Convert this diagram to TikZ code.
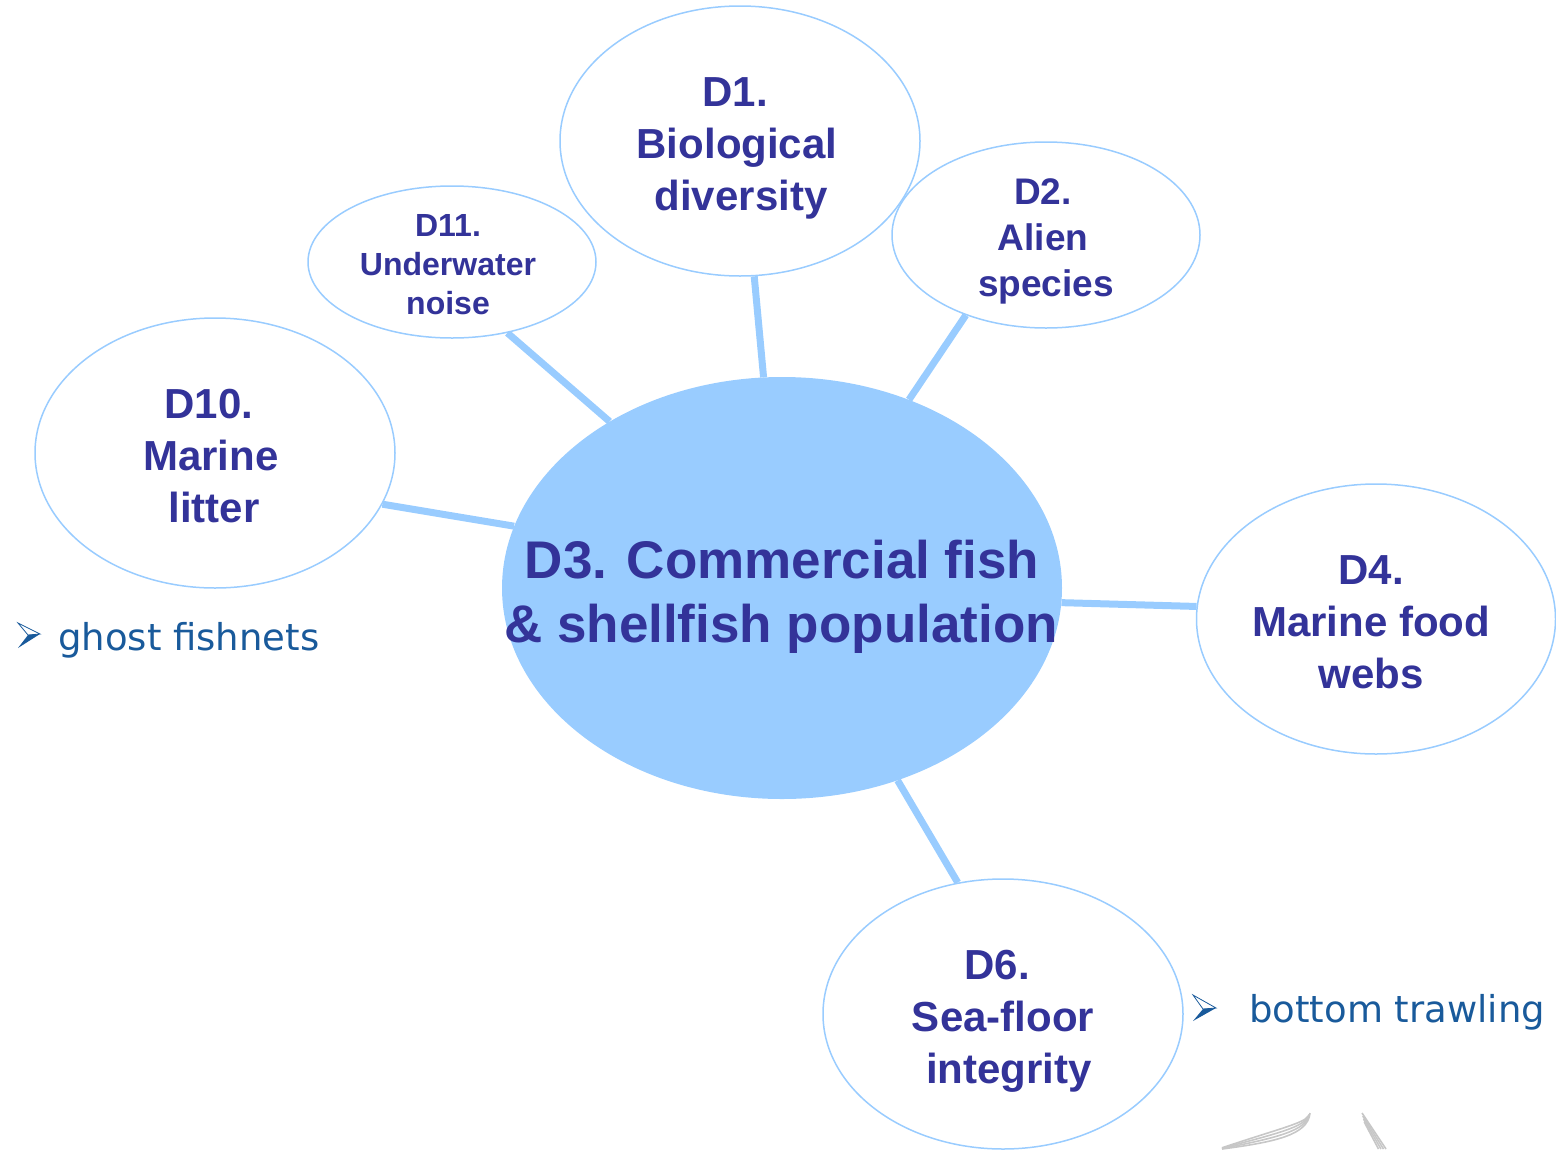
\documentclass[tikz,border=0pt]{standalone}
\usepackage{fontspec}
\setmainfont{Liberation Sans}
\newfontfamily\bulletfont{DejaVu Sans}
\usetikzlibrary{shapes.geometric,backgrounds}
\definecolor{bubblefill}{HTML}{99CCFF}
\definecolor{labeltext}{HTML}{333399}
\definecolor{notetext}{RGB}{25,90,155}
\tikzset{
  bubble/.style={ellipse, draw=bubblefill, line width=1.5pt, fill=white, inner sep=0pt},
  hub/.style={ellipse, fill=bubblefill, inner sep=0pt},
  link/.style={draw=bubblefill, line width=7pt},
  lbl/.style={text=labeltext, align=center, anchor=base, inner sep=0pt},
  note/.style={text=notetext, anchor=base west, inner sep=0pt, font=\bulletfont\fontsize{37}{44}\selectfont},
  bul/.style={draw=notetext, line width=0.8pt, line join=miter},
  bulfill/.style={fill=notetext},
  logo/.style={draw=black!22, line width=1.6pt}
}
\begin{document}
\begin{tikzpicture}[x=1pt,y=-1pt]
\useasboundingbox (0,0) rectangle (1556,1149);
% ellipses
\node[hub, minimum width=560pt, minimum height=422pt] (d3) at (782,588) {};
\node[bubble, minimum width=360pt, minimum height=270pt] (d1) at (740,141) {};
\node[bubble, minimum width=308pt, minimum height=186pt] (d2) at (1046,235) {};
\node[bubble, minimum width=288pt, minimum height=152pt] (d11) at (452,262) {};
\node[bubble, minimum width=360pt, minimum height=270pt] (d10) at (215,453) {};
\node[bubble, minimum width=359pt, minimum height=270pt] (d4) at (1376,619) {};
\node[bubble, minimum width=360pt, minimum height=270pt] (d6) at (1003,1014) {};
% connectors
\begin{scope}[on background layer]
\draw[link] (d1.276) -- (d3.95);
\draw[link] (d2.225) -- (d3.56);
\draw[link] (d11.308) -- (d3.136);
\draw[link] (d10.343) -- (d3.167);
\draw[link] (d4.176) -- (d3.357);
\draw[link] (d6.109) -- (d3.301);
\end{scope}
% labels (anchored at the baseline of the last line)
\node[lbl, font=\bfseries\fontsize{53}{64}\selectfont] (t3) at (778,642) {D3. Commercial fish\hspace*{-8pt}\\\hspace*{6pt}\& shellfish population};
\node[lbl, font=\bfseries\fontsize{42}{52}\selectfont] (t1) at (737,210) {D1.\hspace*{4pt}\\Biological\hspace*{4pt}\\\hspace*{8pt}diversity};
\node[lbl, font=\bfseries\fontsize{37}{46}\selectfont] (t2) at (1043,296) {D2.\\Alien\hspace*{4pt}\\\hspace*{6pt}species};
\node[lbl, font=\bfseries\fontsize{32}{39}\selectfont] (t11) at (448,314) {D11.\\Underwater\\noise};
\node[lbl, font=\bfseries\fontsize{42}{52}\selectfont] (t10) at (211,522) {D10.\hspace*{4pt}\\Marine\hspace*{4pt}\\\hspace*{6pt}litter};
\node[lbl, font=\bfseries\fontsize{42}{52}\selectfont] (t4) at (1371,688) {D4.\\Marine food\\webs};
\node[lbl, font=\bfseries\fontsize{42}{52}\selectfont] (t6) at (1003,1083) {D6.\hspace*{12pt}\\Sea-floor\\\hspace*{12pt}integrity};
% notes
\node[note] (n1) at (58,650) {ghost fishnets};
\node[note] (n2) at (1249,1022) {bottom trawling};
% bullets
\coordinate (b1top) at (18,623);
\coordinate (b1tip) at (40,634);
\coordinate (b1notch) at (28,635);
\coordinate (b1bot) at (18,648);
\draw[bul] (b1top) -- (b1tip) -- (b1notch) -- cycle;
\fill[bulfill] (b1notch) -- (b1tip) -- (b1bot) -- cycle;
\coordinate (b2top) at (1193,995);
\coordinate (b2tip) at (1216,1008);
\coordinate (b2notch) at (1203,1009);
\coordinate (b2bot) at (1193,1021);
\draw[bul] (b2top) -- (b2tip) -- (b2notch) -- cycle;
\fill[bulfill] (b2notch) -- (b2tip) -- (b2bot) -- cycle;
% logo fragment
\foreach \d in {0,4,8,12}{
  \draw[logo] (1222,1149-\d*0.1) .. controls (1275,1142-\d) and (1308-\d*0.3,1135-\d) .. (1310-\d*0.2,1113+\d*0.3);
}
\foreach \d in {0,5,10,15}{
  \draw[logo] (1362+\d*0.15,1113+\d*0.6) -- (1386-\d*0.5,1149);
}
\end{tikzpicture}
\end{document}
